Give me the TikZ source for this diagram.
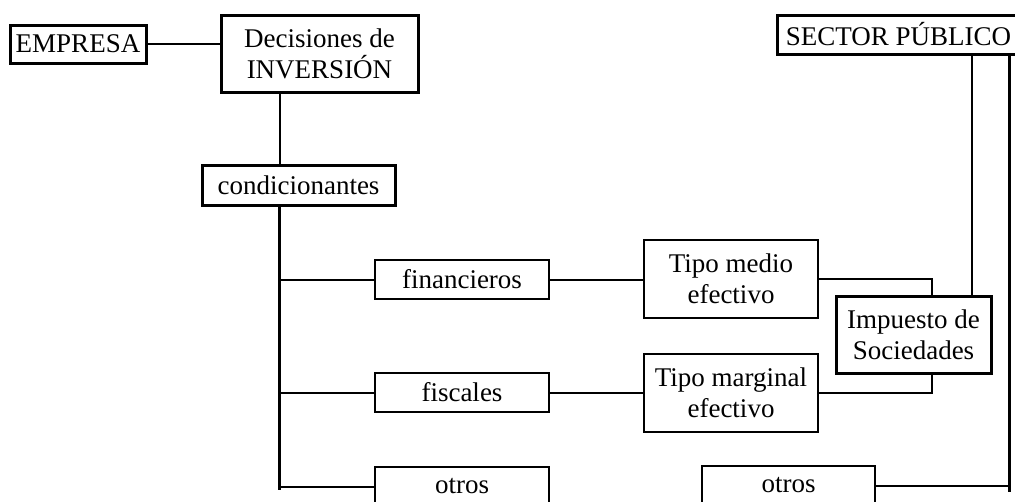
\documentclass[tikz,border=0pt]{standalone}
\usepackage{fontspec}
\setmainfont{Liberation Serif}
\begin{document}
\begin{tikzpicture}[x=1pt,y=-1pt,
 every node/.style={font=\fontsize{27}{31}\selectfont, inner sep=0pt, align=center},
 thickbox/.style={draw, line width=3pt},
 thinbox/.style={draw, line width=1.7pt},
 conn/.style={line width=2pt},
 trunk/.style={line width=3pt}]
\useasboundingbox (0,0) rectangle (1015,501);
\clip (0,0) rectangle (1015,501);
\node[thickbox, minimum width=136pt, minimum height=38pt] (emp) at (78,44) {EMPRESA};
\node[thickbox, minimum width=197pt, minimum height=77pt] (dec) at (319.5,53.5) {Decisiones de\\INVERSIÓN};
\node[thickbox, minimum width=193pt, minimum height=40pt] (cond) at (298.5,185) {condicionantes};
\node[thinbox, minimum width=174pt, minimum height=39pt] (fin) at (462,279.5) {financieros};
\node[thinbox, minimum width=174pt, minimum height=39pt] (fis) at (462,392.5) {fiscales};
\node[thinbox, minimum width=174pt, minimum height=39pt] (otl) at (462,486.5) {otros};
\node[thinbox, minimum width=174pt, minimum height=78pt] (tm) at (731,279) {Tipo medio\\efectivo};
\node[thinbox, minimum width=174pt, minimum height=78pt] (tmg) at (731,393) {Tipo marginal\\efectivo};
\node[thickbox, minimum width=155pt, minimum height=77pt] (imp) at (913.5,334.5) {Impuesto de\\Sociedades};
\node[thickbox, minimum width=243pt, minimum height=39pt] (sec) at (898.5,34.5) {SECTOR PÚBLICO};
\node[thinbox, minimum width=173pt, minimum height=39pt] (otr) at (788.5,485.5) {otros};
\coordinate (tx) at (279.5,0);
\coordinate (tend) at (279.5,490);
\coordinate (jx) at (932,0);
\coordinate (sx) at (972,0);
\coordinate (rx) at (1009,0);
\coordinate (rend) at (1009,492);
\draw[conn] (emp.east) -- (dec.west |- emp.east);
\draw[conn] (dec.south -| tx) -- (cond.north -| tx);
\draw[trunk] (cond.south -| tx) -- (tend);
\draw[conn] (tx |- fin.west) -- (fin.west);
\draw[conn] (tx |- fis.west) -- (fis.west);
\draw[conn] (tx |- otl.west) -- (otl.west);
\draw[conn] (fin.east) -- (tm.west |- fin.east);
\draw[conn] (fis.east) -- (tmg.west |- fis.east);
\draw[conn] (tm.east) -| (imp.north -| jx);
\draw[conn] (tmg.east) -| (imp.south -| jx);
\draw[conn] (sec.south -| sx) -- (imp.north -| sx);
\draw[trunk] (sec.south -| rx) -- (rend);
\draw[conn] (otr.east) -- (rx |- otr.east);
\end{tikzpicture}
\end{document}
